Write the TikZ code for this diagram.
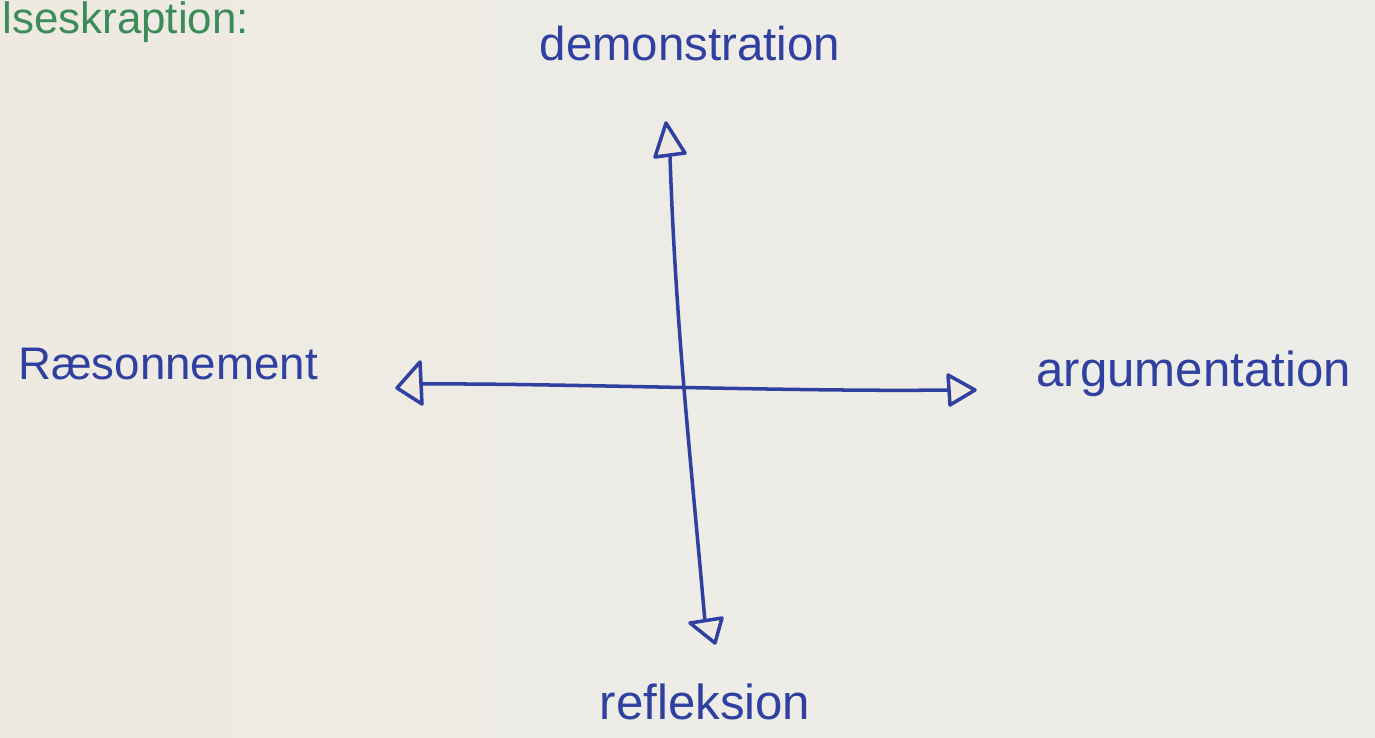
\documentclass[tikz,border=0pt]{standalone}
\usepackage{fontspec}
\setmainfont{Liberation Sans}
\definecolor{paper}{RGB}{238,234,226}
\definecolor{paperR}{RGB}{236,237,233}
\definecolor{ink}{RGB}{48,64,160}
\definecolor{greenink}{RGB}{60,140,90}
\begin{document}
\begin{tikzpicture}[x=0.02cm,y=-0.02cm,
  pen/.style={draw=ink,line width=2pt,line cap=round,line join=round},
  lbl/.style={text=ink,inner sep=0pt},
  tip/.style={pen,fill=paper}]
\useasboundingbox (0,0) rectangle (1375,737);
\clip (0,0) rectangle (1375,737);
\shade[left color=paper,right color=paperR] (0,0) rectangle (1375,737);
% title fragment at the top edge
\node[text=greenink,font=\fontsize{25}{27}\selectfont,anchor=north west,inner sep=0pt] (title) at (2,1) {lseskraption:};
% labels
\node[lbl,font=\fontsize{27}{30}\selectfont] (top) at (690,44) {demonstration};
\node[lbl,anchor=west,font=\fontsize{26}{28}\selectfont] (left) at (18,364) {Ræsonnement};
\node[lbl,anchor=west,font=\fontsize{28}{31}\selectfont] (right) at (1036,374) {argumentation};
\node[lbl,font=\fontsize{28}{31}\selectfont] (bottom) at (705,702) {refleksion};
% axis end points
\coordinate (vt) at (670,157);
\coordinate (vb) at (705,622);
\coordinate (hl) at (421,384);
\coordinate (hr) at (948,390);
\coordinate (c) at (680,384);
% axes
\draw[pen] (vt) .. controls (676,330) and (690,450) .. (vb);
\draw[pen] (hl) .. controls (550,383) and (800,392) .. (hr);
% arrow heads (open triangles)
\draw[tip] (666,123) -- (655,157) -- (685,153) -- cycle;
\draw[tip] (690,623) -- (722,618) -- (715,643) -- cycle;
\draw[tip] (397,388) -- (420,362) -- (422,404) -- cycle;
\draw[tip] (948,375) -- (975,390) -- (950,405) -- cycle;
\end{tikzpicture}
\end{document}
